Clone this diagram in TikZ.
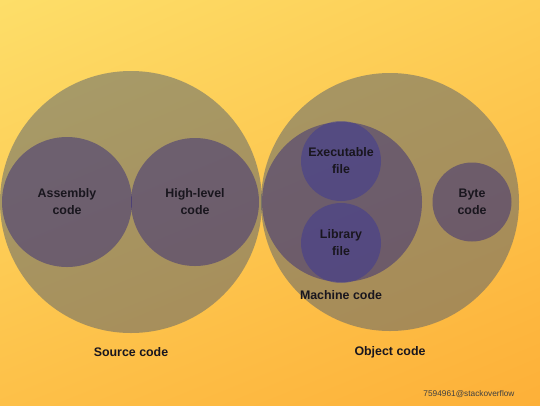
\documentclass[tikz,border=0pt]{standalone}
\usepackage{fontspec}
\setmainfont{Liberation Sans}
\usetikzlibrary{positioning, shadings}

\definecolor{bgul}{RGB}{253,222,105}
\definecolor{bgur}{RGB}{253,205,85}
\definecolor{bgll}{RGB}{253,192,72}
\definecolor{bglr}{RGB}{253,176,56}
\definecolor{outerfill}{RGB}{64,83,114}
\definecolor{innerfill}{RGB}{40,30,125}
\definecolor{filefill}{RGB}{55,52,155}
\definecolor{labeltext}{RGB}{25,22,30}

\begin{document}
\begin{tikzpicture}[x=1pt, y=-1pt,
    every node/.style={font=\bfseries\fontsize{12.4}{17}\selectfont, text=labeltext, align=center},
    outer/.style={circle, fill=outerfill, fill opacity=0.45, inner sep=0pt},
    inner/.style={circle, fill=innerfill, fill opacity=0.45, inner sep=0pt, text opacity=1},
    filecirc/.style={circle, fill=filefill, fill opacity=0.45, inner sep=0pt, text opacity=1}]
% Background
\shade[upper left=bgul, upper right=bgur, lower left=bgll, lower right=bglr]
    (0,0) rectangle (540,405);
\useasboundingbox (0,0) rectangle (540,405);

% Source code
\node[outer, minimum size=262pt] (source) at (131,202) {};
\node[inner, minimum size=130pt] (assembly) at (67,202) {Assembly\\code};
\node[inner, minimum size=128pt] (highlevel) at (195,202) {High-level\\code};
\node (sourcelbl) at (131,352) {Source code};

% Object code
\node[outer, minimum size=258pt] (object) at (390,202) {};
\node[inner, minimum size=160pt] (machine) at (342,202) {};
\node[filecirc, minimum size=80pt] (exec) at (341,161) {Executable\\file};
\node[filecirc, minimum size=80pt] (library) at (341,243) {Library\\file};
\node[inner, minimum size=79pt] (byte) at (472,202) {Byte\\code};
\node (machinelbl) at (341,295) {Machine code};
\node (objectlbl) at (390,352) {Object code};

% Watermark
\node[font=\fontsize{8.3}{10}\selectfont, text=black!75, anchor=east] (mark) at (518,394) {7594961@stackoverflow};
\end{tikzpicture}
\end{document}
